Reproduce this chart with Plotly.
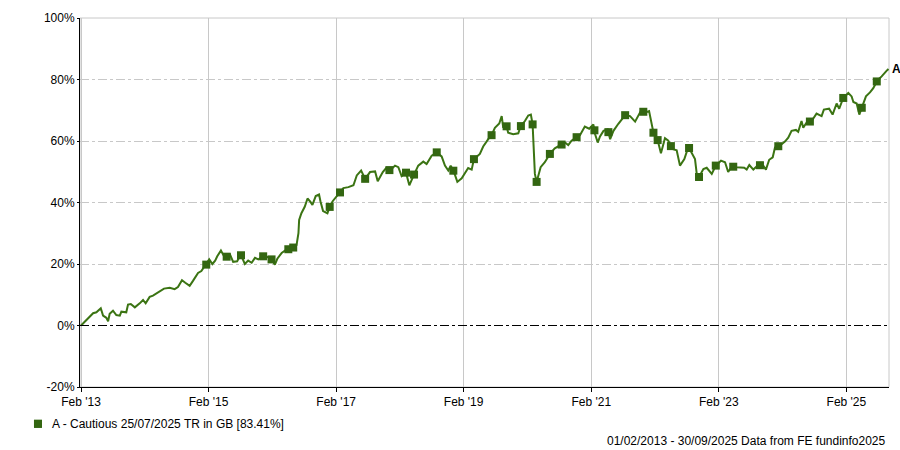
import numpy as np
import pandas as pd
import plotly.graph_objects as go

dates = [
    "2013-02-01", "2013-03-03", "2013-04-11", "2013-04-30", "2013-05-25", "2013-06-07", "2013-06-26",
    "2013-07-06", "2013-07-15", "2013-08-03", "2013-08-22", "2013-09-11", "2013-09-20", "2013-10-18",
    "2013-10-28", "2013-11-13", "2013-12-06", "2014-01-03", "2014-01-22", "2014-02-06", "2014-03-01",
    "2014-03-20", "2014-04-18", "2014-05-22", "2014-06-24", "2014-07-22", "2014-08-10", "2014-09-02",
    "2014-09-21", "2014-10-16", "2014-11-04", "2014-12-03", "2014-12-22", "2015-01-06", "2015-01-19",
    "2015-02-05", "2015-02-23", "2015-03-11", "2015-03-23", "2015-04-13", "2015-05-06", "2015-06-04",
    "2015-06-22", "2015-07-15", "2015-08-04", "2015-08-28", "2015-09-16", "2015-10-06", "2015-10-25",
    "2015-11-13", "2015-12-11", "2016-01-09", "2016-01-28", "2016-02-16", "2016-03-01", "2016-03-26",
    "2016-04-23", "2016-05-22", "2016-06-19", "2016-06-30", "2016-07-04", "2016-07-17", "2016-08-05",
    "2016-08-21", "2016-09-07", "2016-09-18", "2016-10-07", "2016-10-26", "2016-11-03", "2016-11-18",
    "2016-12-13", "2016-12-30", "2017-01-13", "2017-02-14", "2017-03-14", "2017-04-12", "2017-05-11",
    "2017-05-30", "2017-06-24", "2017-07-17", "2017-08-14", "2017-09-12", "2017-09-27", "2017-10-26",
    "2017-11-14", "2017-12-07", "2018-01-04", "2018-01-23", "2018-02-11", "2018-03-08", "2018-03-27",
    "2018-04-19", "2018-05-17", "2018-06-15", "2018-07-04", "2018-08-02", "2018-08-31", "2018-09-28",
    "2018-10-17", "2018-11-05", "2018-11-19", "2018-12-08", "2018-12-27", "2019-01-21", "2019-02-08",
    "2019-02-27", "2019-03-19", "2019-04-01", "2019-05-05", "2019-05-24", "2019-06-22", "2019-07-11",
    "2019-07-30", "2019-08-24", "2019-09-07", "2019-09-16", "2019-10-01", "2019-10-14", "2019-11-12",
    "2019-12-11", "2019-12-24", "2020-01-18", "2020-02-06", "2020-02-21", "2020-03-02", "2020-03-05",
    "2020-03-09", "2020-03-15", "2020-03-25", "2020-04-03", "2020-04-17", "2020-05-11", "2020-06-09",
    "2020-07-07", "2020-08-05", "2020-09-03", "2020-09-22", "2020-10-11", "2020-11-05", "2020-11-28",
    "2020-12-26", "2021-01-20", "2021-02-13", "2021-02-23", "2021-03-10", "2021-03-23", "2021-04-12",
    "2021-05-06", "2021-05-20", "2021-06-08", "2021-07-06", "2021-08-14", "2021-09-11", "2021-10-10",
    "2021-11-13", "2021-12-06", "2021-12-29", "2022-01-13", "2022-01-23", "2022-02-16", "2022-03-07",
    "2022-03-30", "2022-04-18", "2022-05-11", "2022-06-05", "2022-06-24", "2022-07-19", "2022-08-11",
    "2022-08-30", "2022-09-18", "2022-09-28", "2022-10-11", "2022-11-05", "2022-11-24", "2022-12-23",
    "2023-01-15", "2023-02-14", "2023-03-09", "2023-03-27", "2023-04-16", "2023-05-15", "2023-06-02",
    "2023-06-27", "2023-07-11", "2023-07-26", "2023-08-18", "2023-09-15", "2023-10-14", "2023-10-29",
    "2023-11-17", "2023-12-07", "2023-12-20", "2024-01-17", "2024-02-15", "2024-03-05", "2024-03-24",
    "2024-04-18", "2024-05-01", "2024-05-20", "2024-05-30", "2024-06-18", "2024-07-17", "2024-08-14",
    "2024-09-12", "2024-09-25", "2024-10-25", "2024-11-14", "2024-12-07", "2024-12-22", "2025-01-14",
    "2025-02-12", "2025-03-03", "2025-03-13", "2025-04-01", "2025-04-16", "2025-04-30", "2025-05-24",
    "2025-06-16", "2025-07-05", "2025-07-28", "2025-08-22", "2025-09-20", "2025-09-30",
]

growth_pct = [
    0.0, 1.8, 4.0, 4.3, 5.6, 3.2, 2.5,
    1.4, 3.8, 4.8, 3.4, 3.2, 4.5, 4.3,
    6.8, 7.0, 5.9, 7.2, 8.3, 7.2, 9.3,
    9.7, 10.7, 12.0, 12.3, 11.8, 12.5, 14.7,
    13.9, 12.9, 14.5, 17.1, 17.7, 19.0, 19.8,
    21.5, 20.0, 21.1, 22.5, 24.4, 22.0, 23.1,
    20.7, 20.9, 23.1, 20.0, 21.1, 20.4, 22.0,
    21.5, 22.5, 22.2, 21.5, 19.8, 21.7, 23.6,
    24.7, 25.0, 26.1, 30.0, 34.3, 36.5, 38.6,
    41.3, 40.2, 39.2, 42.1, 42.6, 40.4, 37.2,
    36.5, 39.2, 40.5, 42.6, 44.7, 45.0, 45.6,
    48.8, 50.4, 47.7, 49.9, 50.1, 46.9, 49.9,
    51.2, 50.4, 52.0, 51.5, 48.6, 49.7, 45.6,
    48.6, 52.0, 53.3, 52.5, 55.2, 56.3, 55.0,
    52.0, 50.4, 52.0, 49.9, 46.7, 47.9, 49.5,
    51.2, 50.7, 54.1, 55.8, 58.2, 60.6, 61.9,
    64.3, 65.7, 68.1, 64.3, 65.7, 62.7, 62.2,
    62.5, 64.7, 66.5, 68.3, 68.6, 65.4, 60.1,
    54.1, 49.3, 46.7, 48.3, 51.5, 53.1, 55.8,
    57.6, 58.5, 59.5, 58.7, 60.1, 61.1, 61.9,
    64.7, 64.0, 65.4, 62.2, 59.5, 61.5, 63.3,
    63.8, 60.6, 63.3, 65.6, 68.4, 68.1, 66.3,
    69.9, 69.2, 69.7, 66.0, 62.7, 60.3, 56.0,
    60.9, 60.1, 57.4, 57.0, 52.0, 54.1, 58.1,
    56.3, 54.1, 49.3, 48.3, 50.9, 51.3, 49.3,
    52.0, 53.6, 53.1, 49.9, 51.7, 51.5, 51.5,
    51.3, 50.7, 52.2, 50.7, 52.2, 52.0, 50.7,
    53.9, 54.7, 57.9, 58.5, 59.8, 61.1, 63.3,
    63.6, 63.0, 66.5, 64.3, 66.0, 66.5, 68.9,
    68.1, 70.2, 70.5, 68.6, 72.2, 70.5, 74.0,
    75.6, 74.5, 72.7, 72.2, 68.6, 70.8, 74.5,
    75.8, 77.2, 79.7, 81.0, 82.9, 83.41,
]

marker_dates = [
    "2015-01-19", "2015-05-16", "2015-08-06", "2015-12-11", "2016-01-28", "2016-05-03", "2016-05-31",
    "2016-12-26", "2017-02-23", "2017-07-17", "2017-12-03", "2018-03-08", "2018-04-23", "2018-08-31",
    "2018-12-04", "2019-04-01", "2019-07-11", "2019-10-05", "2019-12-26", "2020-03-02", "2020-03-25",
    "2020-06-09", "2020-08-15", "2020-11-09", "2021-02-19", "2021-05-10", "2021-08-14", "2021-11-26",
    "2022-01-23", "2022-02-16", "2022-05-03", "2022-08-15", "2022-10-11", "2023-01-15", "2023-04-25",
    "2023-09-25", "2024-01-08", "2024-07-07", "2025-01-14", "2025-04-30", "2025-07-25",
]

y_tick_vals = [-20, 0, 20, 40, 60, 80, 100]
y_tick_text = ["-20%", "0%", "20%", "40%", "60%", "80%", "100%"]
x_tick_vals = ["2013-02-01", "2015-02-01", "2017-02-01", "2019-02-01", "2021-02-01", "2023-02-01", "2025-02-01"]
x_tick_text = ["Feb '13", "Feb '15", "Feb '17", "Feb '19", "Feb '21", "Feb '23", "Feb '25"]

series_label = "A - Cautious 25/07/2025 TR in GB [83.41%]"
footer_text = "01/02/2013 - 30/09/2025 Data from FE fundinfo2025"
end_label = "A"

LINE = "#3b7413"
MARK = "#336611"
FONT = "Liberation Sans, Arial, sans-serif"
FS = 12

dts = pd.to_datetime(dates)
mdts = pd.to_datetime(marker_dates)
# place markers on the line
mvals = np.interp(mdts.astype("int64"), dts.astype("int64"), growth_pct)

fig = go.Figure()
fig.add_trace(go.Scatter(
    x=dts, y=growth_pct, mode="lines",
    line=dict(color=LINE, width=2), showlegend=False, hoverinfo="skip",
))
fig.add_trace(go.Scatter(
    x=mdts, y=mvals, mode="markers",
    marker=dict(symbol="square", size=8, color=MARK, line=dict(width=0)),
    showlegend=False, hoverinfo="skip",
))

shapes = [
    dict(type="rect", xref="paper", yref="paper", x0=0, x1=1, y0=0, y1=1,
         line=dict(color="#c8c8c8", width=1), layer="below"),
    dict(type="line", xref="paper", yref="y", x0=0, x1=1, y0=0, y1=0,
         line=dict(color="black", width=1, dash="dashdot"), layer="above"),
    dict(type="rect", xref="paper", yref="paper", x0=-0.0569, x1=-0.047, y0=-0.111, y1=-0.0885,
         fillcolor=MARK, line=dict(width=0)),
]

annotations = [
    dict(xref="paper", yref="paper", x=-0.0371, y=-0.0992, xanchor="left", yanchor="middle",
         text=series_label, showarrow=False, font=dict(family=FONT, size=FS, color="#000")),
    dict(xref="paper", yref="paper", x=0.999, y=-0.1475, xanchor="right", yanchor="middle",
         text=footer_text, showarrow=False, font=dict(family=FONT, size=FS, color="#000")),
    dict(x=dts[-1], y=growth_pct[-1], xref="x", yref="y", xanchor="left", yanchor="middle",
         xshift=2, text="<b>" + end_label + "</b>", showarrow=False,
         font=dict(family=FONT, size=FS, color="#000")),
]

fig.update_layout(
    width=900, height=450,
    margin=dict(l=80, r=11, t=14, b=63),
    paper_bgcolor="white", plot_bgcolor="white",
    font=dict(family=FONT, size=FS, color="#000"),
    shapes=shapes, annotations=annotations,
    xaxis=dict(
        range=["2013-01-26", "2025-10-03"], tickmode="array",
        tickvals=x_tick_vals, ticktext=x_tick_text,
        showgrid=True, gridcolor="#c8c8c8", gridwidth=1,
        showline=True, linecolor="#000", linewidth=1,
        ticks="outside", ticklen=4, tickcolor="#000",
        zeroline=False, fixedrange=True,
    ),
    yaxis=dict(
        range=[-20, 100], tickmode="array",
        tickvals=y_tick_vals, ticktext=y_tick_text,
        showgrid=True, gridcolor="#c8c8c8", gridwidth=1, griddash="dashdot",
        showline=True, linecolor="#000", linewidth=1,
        ticks="outside", ticklen=2, tickcolor="#000",
        zeroline=False, fixedrange=True,
    ),
)

fig.write_html(
    "out.html",
    config={"displayModeBar": False},
    post_script="document.body.style.margin='0';document.body.style.padding='0';document.body.style.overflow='hidden';",
)
